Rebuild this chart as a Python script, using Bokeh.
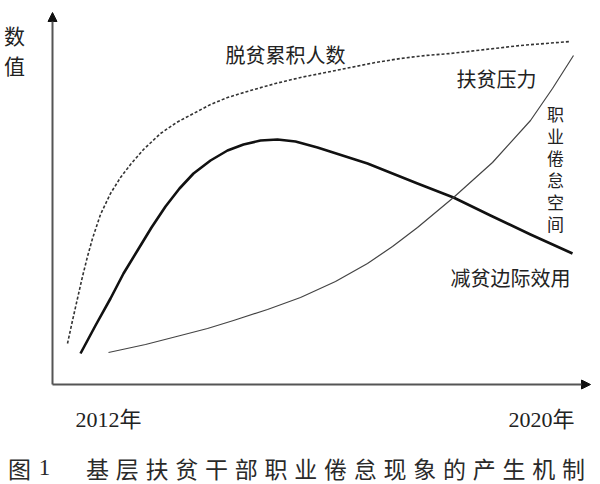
from bokeh.plotting import figure
from bokeh.models import Range1d, Arrow, NormalHead, Label
from bokeh.embed import file_html
from bokeh.resources import INLINE

# ---- data (units: x = distance along time axis, y = value above axis) ----
cum_t = [15, 20, 25, 30, 35, 40, 48, 58, 68, 78, 91, 108, 124, 141, 158, 175, 198, 223, 248, 273,
         298, 323, 348, 373, 398, 433, 468, 493, 518]
cum_v = [41, 64, 86, 108, 128, 146, 170, 191, 207, 220, 235, 251, 262, 271, 280, 287, 294, 301, 307, 312,
         317, 322, 326, 329, 331, 335, 339, 341, 343]

util_t = [28, 43, 58, 71, 85, 99, 113, 127, 141, 158, 175, 191, 208, 225, 243, 265, 290, 315, 340, 365,
          401, 438, 478, 520]
util_v = [31, 59, 86, 111, 134, 157, 178, 196, 211, 224, 234, 240, 244, 245, 243, 237, 229, 221, 211, 201,
          187, 169, 150, 131]

press_t = [56, 93, 128, 155, 181, 215, 248, 283, 315, 340, 365, 401, 440, 478, 500, 521]
press_v = [32, 40, 49, 56, 64, 75, 87, 103, 121, 138, 157, 187, 222, 264, 296, 329]

series_labels = ["脱贫累积人数", "扶贫压力", "减贫边际效用"]
gap_label = "职业倦怠空间"
y_label = "数值"
x_tick_labels = ["2012年", "2020年"]
caption_head = ["图", "1"]
caption_body = "基层扶贫干部职业倦怠现象的产生机制"

X_AXIS_LEN, Y_AXIS_LEN = 538, 372

# ---- layout ----
OX, OY = 52, 384          # origin position in page pixels
W, H = 600, 484
def X(px):
    return px - OX
def Y(py):
    return OY - py

p = figure(width=W, height=H, output_backend="svg", toolbar_location=None,
           x_range=Range1d(X(0), X(W)), y_range=Range1d(Y(H), Y(0)),
           min_border=0, outline_line_color=None)
p.axis.visible = False
p.grid.visible = False
p.background_fill_color = "white"
p.border_fill_color = "white"

axis_col = "#555555"
head_col = "#111111"
p.add_layout(Arrow(x_start=0, y_start=0, x_end=0, y_end=Y_AXIS_LEN, line_color=axis_col, line_width=2,
                   end=NormalHead(size=9, fill_color=head_col, line_color=head_col)))
p.add_layout(Arrow(x_start=0, y_start=0, x_end=X_AXIS_LEN, y_end=0, line_color=axis_col, line_width=2,
                   end=NormalHead(size=9, fill_color=head_col, line_color=head_col)))

p.line(cum_t, cum_v, line_color="#333333", line_width=1.6, line_dash="3 2", line_join="round")
p.line(util_t, util_v, line_color="#111111", line_width=2.6, line_join="round")
p.line(press_t, press_v, line_color="#444444", line_width=1.2, line_join="round")

CJK = "Noto Sans CJK SC"
MIX = "Liberation Serif, Noto Sans CJK SC"
txt = "#222222"

def lab(text, px, py, size, font=CJK, color=txt):
    p.add_layout(Label(x=X(px), y=Y(py), text=text, text_font=font, text_font_size=f"{size}px",
                       text_align="center", text_baseline="middle", text_color=color))

for i, ch in enumerate(y_label):
    lab(ch, 14, 34 + i * 30, 21)

lab(series_labels[0], 285, 54, 20)
lab(series_labels[1], 496, 78, 20)
lab(series_labels[2], 510, 277, 20)

for i, ch in enumerate(gap_label):
    lab(ch, 555, 113 + i * 22, 17)

lab(x_tick_labels[0], 108, 419, 22, font=MIX)
lab(x_tick_labels[1], 541, 419, 22, font=MIX)

lab(caption_head[0], 19, 467, 23, color="#2a2a2a")
lab(caption_head[1], 44, 467, 23, font=MIX, color="#2a2a2a")
for i, ch in enumerate(caption_body):
    lab(ch, 97 + i * 29.75, 467, 23, color="#2a2a2a")

open("out.html", "w").write(file_html(p, INLINE))
